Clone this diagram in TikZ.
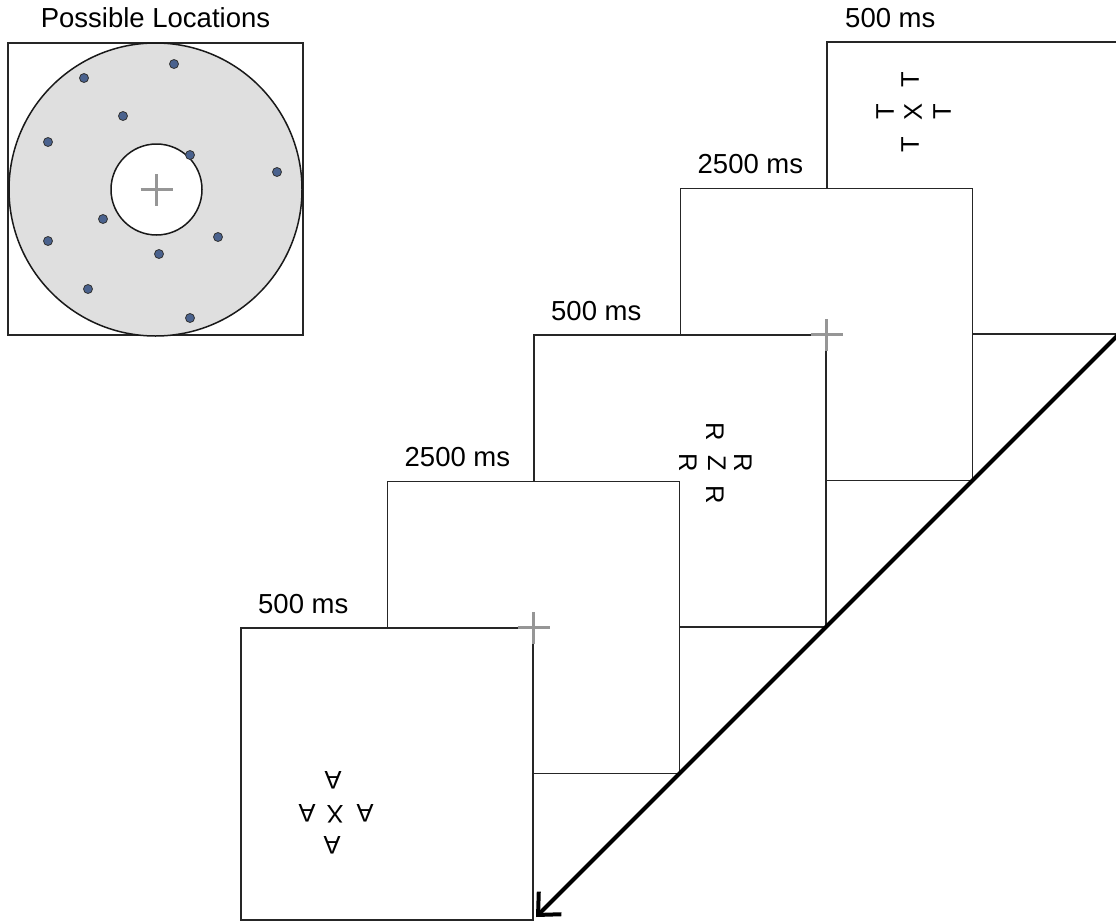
\documentclass[tikz,border=0pt]{standalone}
\usepackage{fontspec}
\setmainfont{Liberation Sans}
\usetikzlibrary{arrows.meta,positioning,calc}
\definecolor{cdisc}{RGB}{223,223,223}
\definecolor{cdot}{RGB}{74,98,142}
\definecolor{cfix}{RGB}{150,150,150}
\tikzset{
  screen/.style={draw=black!85, line width=1.5pt, fill=white, minimum size=292pt, inner sep=0pt, outer sep=0pt},
  lbl/.style={font=\fontsize{27.5}{32}\selectfont, inner sep=0pt, anchor=base west},
  stim/.style={font=\fontsize{25.5}{30}\selectfont, inner sep=0pt},
  locdot/.style={circle, draw=black!80, line width=0.8pt, fill=cdot, minimum size=9pt, inner sep=0pt},
  fixcross/.style={cfix, line width=3.5pt},
}

\begin{document}
\begin{tikzpicture}[x=1pt, y=-1pt]
  \useasboundingbox (0,0) rectangle (1116,921);

  % possible locations
  \node[draw=black!85, line width=1.5pt, minimum width=295pt, minimum height=292pt, inner sep=0pt] (loc) at (155.5,189) {};
  \node[circle, draw=black!90, line width=1.5pt, fill=cdisc, minimum size=293pt, inner sep=0pt] (disc) at (155.5,189.5) {};
  \node[circle, draw=black!90, line width=1.5pt, fill=white, minimum size=91pt, inner sep=0pt] (hole) at (156.5,189.5) {};
  \draw[fixcross] ([xshift=-16pt]hole.center) -- ([xshift=16pt]hole.center);
  \draw[fixcross] ([yshift=-16pt]hole.center) -- ([yshift=16pt]hole.center);
  \foreach \x/\y [count=\i] in {174/64, 84/78, 123/116, 48/142, 190/155, 277/172,
                                103/219, 48/241, 218/237, 159/254, 88/289, 190/318}
    \node[locdot] (p\i) at (\x,\y) {};
  \node[lbl, anchor=base] (loctitle) at ([shift={(0,-15)}]loc.north) {Possible Locations};

  % trial sequence, back to front
  \node[screen] (f5) at (973,188) {};
  \node[screen] (f4) at (826.5,334.5) {};
  \node[screen] (f3) at (680,481) {};
  \node[screen] (f2) at (533.5,627.5) {};
  \node[screen] (f1) at (387,774) {};

  \node[lbl] (l5) at ([shift={(18,-15)}]f5.north west) {500 ms};
  \node[lbl] (l4) at ([shift={(17,-15)}]f4.north west) {2500 ms};
  \node[lbl] (l3) at ([shift={(17,-15)}]f3.north west) {500 ms};
  \node[lbl] (l2) at ([shift={(17,-15)}]f2.north west) {2500 ms};
  \node[lbl] (l1) at ([shift={(17,-15)}]f1.north west) {500 ms};

  \draw[fixcross] ([xshift=-16pt]f4.center) -- ([xshift=16pt]f4.center);
  \draw[fixcross] ([yshift=-16pt]f4.center) -- ([yshift=16pt]f4.center);
  \draw[fixcross] ([xshift=-16pt]f2.center) -- ([xshift=16pt]f2.center);
  \draw[fixcross] ([yshift=-16pt]f2.center) -- ([yshift=16pt]f2.center);

  % targets and flankers
  \node[stim, rotate=90] (t1) at (910,80) {T};
  \node[stim, rotate=90] (t2) at (885,112) {T};
  \node[stim, rotate=90] (t0) at (913,112) {X};
  \node[stim, rotate=90] (t3) at (942,112) {T};
  \node[stim, rotate=90] (t4) at (910,145) {T};

  \node[stim, rotate=-90] (r1) at (715,432) {R};
  \node[stim, rotate=-90] (r2) at (688,463) {R};
  \node[stim, rotate=-90] (r0) at (717,463) {Z};
  \node[stim, rotate=-90] (r3) at (743,463) {R};
  \node[stim, rotate=-90] (r4) at (715,495) {R};

  \node[stim, rotate=180] (a1) at (333,780) {A};
  \node[stim, rotate=180] (a2) at (307,813) {A};
  \node[stim, rotate=180] (a0) at (335,814) {X};
  \node[stim, rotate=180] (a3) at (365,813) {A};
  \node[stim, rotate=180] (a4) at (332,845) {A};

  \draw[line width=4pt, -{Straight Barb[length=17pt, width=32pt]}] (f5.south east) -- ([shift={(3,-3)}]f1.south east);
\end{tikzpicture}
\end{document}
